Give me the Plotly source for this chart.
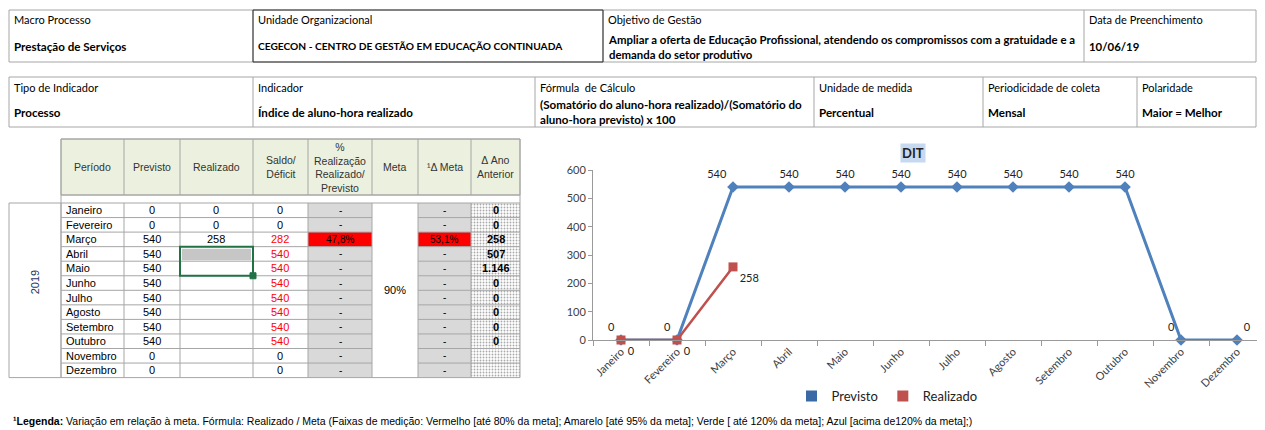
import plotly.graph_objects as go

# ---------------- data ----------------
months = ["Janeiro", "Fevereiro", "Março", "Abril", "Maio", "Junho", "Julho",
          "Agosto", "Setembro", "Outubro", "Novembro", "Dezembro"]
previsto = [0, 0, 540, 540, 540, 540, 540, 540, 540, 540, 0, 0]
realizado = [0, 0, 258, None, None, None, None, None, None, None, None, None]
saldo = [0, 0, 282, 540, 540, 540, 540, 540, 540, 540, 0, 0]
pct_realizacao = ["-", "-", "47,8%", "-", "-", "-", "-", "-", "-", "-", "-", "-"]
delta_meta = ["-", "-", "53,1%", "-", "-", "-", "-", "-", "-", "-", "-", "-"]
ano_anterior = ["0", "0", "258", "507", "1.146", "0", "0", "0", "0", "0", "", ""]
meta_txt = "90%"
year_txt = "2019"

info1_headers = ["Macro Processo", "Unidade Organizacional", "Objetivo de Gestão", "Data de Preenchimento"]
info1_values = ["Prestação de Serviços", "CEGECON - CENTRO DE GESTÃO EM EDUCAÇÃO CONTINUADA",
                "Ampliar a oferta de Educação Profissional, atendendo os compromissos com a gratuidade e a<br>demanda do setor produtivo",
                "10/06/19"]
info2_headers = ["Tipo de Indicador", "Indicador", "Fórmula  de Cálculo", "Unidade de medida",
                 "Periodicidade de coleta", "Polaridade"]
info2_values = ["Processo", "Índice de aluno-hora realizado",
                "(Somatório do aluno-hora realizado)/(Somatório do<br>aluno-hora previsto) x 100",
                "Percentual", "Mensal", "Maior = Melhor"]
table_headers = ["Período", "Previsto", "Realizado", "Saldo/<br>Déficit",
                 "%<br>Realização<br>Realizado/<br>Previsto", "Meta", "¹Δ Meta", "Δ Ano<br>Anterior"]

# ---------------- layout constants (screen pixels) ----------------
OFF = 8                      # page body margin
W, H = 1265 - OFF, 430 - OFF # figure size
def X(p): return (p - OFF) / W
def Y(p): return 1 - (p - OFF) / H

shapes, annos = [], []
GRID = "#a6a6a6"

def rect(x0, y0, x1, y1, line=GRID, fill=None, width=1, layer="above"):
    d = dict(type="rect", xref="paper", yref="paper", x0=X(x0), x1=X(x1), y0=Y(y0), y1=Y(y1),
             line=dict(color=line, width=width), layer=layer)
    if fill:
        d["fillcolor"] = fill
    if line is None:
        d["line"] = dict(width=0)
    shapes.append(d)

def hline(x0, x1, y, color=GRID, width=1):
    shapes.append(dict(type="line", xref="paper", yref="paper", x0=X(x0), x1=X(x1), y0=Y(y), y1=Y(y),
                       line=dict(color=color, width=width)))

def vline(x, y0, y1, color=GRID, width=1):
    shapes.append(dict(type="line", xref="paper", yref="paper", x0=X(x), x1=X(x), y0=Y(y0), y1=Y(y1),
                       line=dict(color=color, width=width)))

def text(x, y, s, size=11, color="black", anchor="left", family="Lato", bold=False, angle=0, bg=None):
    if bold:
        s = "<b>" + s.replace("<br>", "</b><br><b>") + "</b>"
    a = dict(xref="paper", yref="paper", x=X(x), y=Y(y), text=s, showarrow=False,
             xanchor=anchor, yanchor="middle", align=anchor if anchor != "center" else "center",
             font=dict(size=size, color=color, family=family), textangle=angle)
    if bg:
        a["bgcolor"] = bg
    annos.append(a)

# ---- info table 1 ----
t1_cols = [9, 253, 603, 1084, 1256]
t1_sizes = [11.6, 10.2, 11.4, 11.4]
rect(9, 10, 1256, 62)
for c in t1_cols[1:-1]:
    vline(c, 10, 62)
rect(253, 10, 603, 62, line="#303030")
for i in range(4):
    text(t1_cols[i] + 3, 20, info1_headers[i], size=11)
    text(t1_cols[i] + 3, 46 if i != 2 else 47, info1_values[i], bold=True, size=t1_sizes[i])

# ---- info table 2 ----
t2_cols = [9, 253, 535, 814, 983, 1137, 1256]
rect(9, 77, 1256, 127)
for c in t2_cols[1:-1]:
    vline(c, 77, 127)
for i in range(6):
    text(t2_cols[i] + 3, 87, info2_headers[i], size=11)
    text(t2_cols[i] + 3, 112, info2_values[i], bold=True, size=11.6)

# ---- data table ----
cols = [61, 124, 180, 253, 308, 372, 418, 471, 520]
HT, HB = 139, 195
R0, RH = 203, 14.55
RB = R0 + 12 * RH
TF = "Liberation Sans"

rect(cols[0], HT, cols[-1], HB, fill="#ebf1de", layer="below")
for c in cols:
    vline(c, HT, HB)
hline(cols[0], cols[-1], HT)
hline(cols[0], cols[-1], HB)
vline(cols[0], HB, R0)
vline(cols[-1], HB, R0)
for i, h in enumerate(table_headers):
    text((cols[i] + cols[i + 1]) / 2, 167, h, size=10.5, anchor="center", family=TF, color="#333")

# cell backgrounds
for r in range(12):
    y0, y1 = R0 + r * RH, R0 + (r + 1) * RH
    red = pct_realizacao[r] != "-"
    rect(cols[4], y0, cols[5], y1, line=None, fill="#ff0000" if red else "#d9d9d9", layer="below")
    red2 = delta_meta[r] != "-"
    rect(cols[6], y0, cols[7], y1, line=None, fill="#ff0000" if red2 else "#d9d9d9", layer="below")

# grid
rect(9, R0, 61, RB)
for r in range(13):
    y = R0 + r * RH
    hline(61, 372, y)
    hline(418, 520, y)
hline(372, 418, R0)
hline(372, 418, RB)
for c in cols:
    vline(c, R0, RB)

# texts
text(35, (R0 + RB) / 2 - 8, year_txt, family=TF, anchor="center", angle=-90, color="#1f3864")
text(395, (R0 + RB) / 2, meta_txt, family=TF, anchor="center")
for r in range(12):
    yc = R0 + (r + 0.5) * RH
    text(64, yc, months[r], family=TF)
    text(152, yc, str(previsto[r]), family=TF, anchor="center")
    if realizado[r] is not None:
        text(216, yc, str(realizado[r]), family=TF, anchor="center")
    text(280, yc, str(saldo[r]), family=TF, anchor="center", color="#ff0000" if saldo[r] > 0 else "black")
    text(340, yc, pct_realizacao[r], family=TF, anchor="center", size=10)
    text(444, yc, delta_meta[r], family=TF, anchor="center", size=10)
    if ano_anterior[r]:
        text(496, yc, ano_anterior[r], family=TF, anchor="center", bold=True)

# selection box
rect(182, R0 + 3 * RH + 2, 251, R0 + 4 * RH - 1, line=None, fill="#c6c6c6")
rect(180, R0 + 3 * RH, 253, R0 + 5 * RH, line="#217346", width=2)
rect(250, R0 + 5 * RH - 3, 256, R0 + 5 * RH + 3, line="#217346", fill="#217346")

# footnote
text(11, 421, "<b>¹Legenda:</b> Variação em relação à meta. Fórmula: Realizado / Meta (Faixas de medição: Vermelho [até 80% da meta]; Amarelo [até 95% da meta]; Verde [ até 120% da meta]; Azul [acima de120% da meta];)",
     size=10.5, family="Liberation Sans")

# chart title
text(913, 153, "<b>DIT</b>", size=13, anchor="center", bg="#c6d9f1", color="#222")

# ---------------- figure ----------------
fig = go.Figure()

# dotted background of the "Δ Ano Anterior" column (pixel overlay axes)
fig.add_trace(go.Scatter(
    x=[cols[7], cols[8], cols[8], cols[7], cols[7]], y=[R0, R0, RB, RB, R0],
    xaxis="x2", yaxis="y2", mode="lines", fill="toself", line=dict(width=0),
    fillpattern=dict(shape=".", fgcolor="#555555", bgcolor="white", size=3, solidity=0.3),
    hoverinfo="skip", showlegend=False))

prev_pos = ["top left", "top left", "top left", "top center", "top center", "top center", "top center",
            "top center", "top center", "top center", "top left", "top right"]
fig.add_trace(go.Scatter(
    x=months, y=previsto, mode="lines+markers+text", name="Previsto", cliponaxis=False,
    line=dict(color="#4f81bd", width=3), marker=dict(symbol="diamond", size=9, color="#4f81bd"),
    text=[str(v) for v in previsto], textposition=prev_pos,
    textfont=dict(size=11, family="Lato", color="#222"), showlegend=False))
fig.add_trace(go.Scatter(
    x=months, y=realizado, mode="lines+markers+text", name="Realizado", cliponaxis=False,
    line=dict(color="#c0504d", width=2.5), marker=dict(symbol="square", size=9, color="#c0504d"),
    text=[("" if v is None else str(v)) for v in realizado], textposition="bottom right",
    textfont=dict(size=11, family="Lato", color="#222"), showlegend=False))
# legend keys
fig.add_trace(go.Scatter(x=[None], y=[None], mode="markers", name="Previsto",
                         marker=dict(symbol="square", size=11, color="#3a6aa6")))
fig.add_trace(go.Scatter(x=[None], y=[None], mode="markers", name="Realizado",
                         marker=dict(symbol="square", size=11, color="#c0504d")))

fig.update_layout(
    width=W, height=H, margin=dict(l=0, r=0, t=0, b=0, autoexpand=False),
    paper_bgcolor="white", plot_bgcolor="rgba(0,0,0,0)",
    shapes=shapes, annotations=annos,
    xaxis=dict(domain=[X(593), X(1265)], type="category", range=[-0.5, 11.5],
               showgrid=False, showline=True, automargin=False,
               linecolor="#9a9a9a", ticks="outside", tickson="boundaries", ticklen=5, tickcolor="#9a9a9a",
               tickangle=-45, tickfont=dict(size=11, family="Lato", color="#404040")),
    yaxis=dict(domain=[Y(340), Y(170)], range=[0, 600], dtick=100, showgrid=False, showline=True,
               automargin=False,
               linecolor="#9a9a9a", ticks="outside", ticklen=4, tickcolor="#9a9a9a", zeroline=False,
               tickfont=dict(size=11, family="Lato", color="#404040")),
    xaxis2=dict(domain=[0, 1], range=[OFF, 1265], visible=False, anchor="y2", automargin=False),
    yaxis2=dict(domain=[0, 1], range=[430, OFF], visible=False, anchor="x2", automargin=False),
    legend=dict(orientation="h", x=X(887), xanchor="center", y=Y(396), yanchor="middle",
                font=dict(size=13, family="Lato", color="#222"), itemwidth=30,
                bgcolor="rgba(0,0,0,0)"),
    showlegend=True,
)

fig.write_html("out.html")
